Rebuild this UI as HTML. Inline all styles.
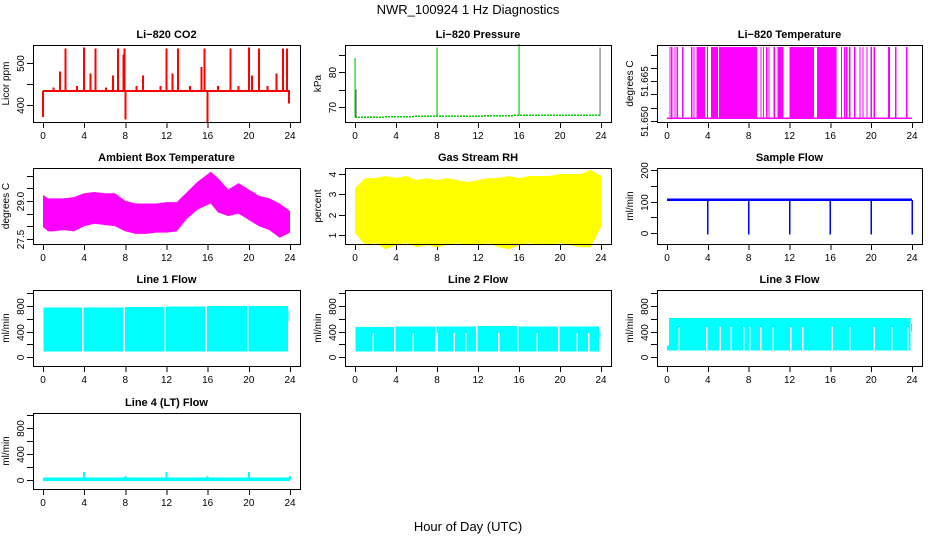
<!DOCTYPE html>
<html><head><meta charset="utf-8"><style>
html,body{margin:0;padding:0;background:#fff;}
svg{display:block;font-family:"Liberation Sans",sans-serif;}
</style></head><body>
<svg id="c" width="936" height="540" xmlns="http://www.w3.org/2000/svg" shape-rendering="crispEdges">
<text x="468" y="14" text-anchor="middle" font-size="13">NWR_100924  1 Hz Diagnostics</text>
<text x="468" y="531" text-anchor="middle" font-size="13">Hour of Day (UTC)</text>
</svg>
<script>
// ---- data ----
const xTicks = [0,4,8,12,16,20,24];
// CO2
const co2Base = 433;
const co2SpikeHours = [2.2,4.0,5.1,7.3,7.9,12.0,13.1,15.7,18.2,20.0,21.0,23.3,23.7,1.65,4.6,6.8,9.7,12.6,15.4,20.3,22.7,7.8,0.0,8.0,16.0,23.9,3.3,9.1,11.4,14.3,17.0,19.0,21.8,6.1,1.0];
const co2SpikeValues = [535,537,535,535,535,535,535,535,535,537,535,535,535,480,475,470,470,475,490,470,475,520,372,365,360,403,445,445,445,445,445,445,445,442,442];
// Pressure
const presHours = [0,4,8,12,16,20,24];
const presBase = [67.0,67.2,67.4,67.4,67.6,67.6,67.6];
const presSpikeHours = [0.0,0.1,8.0,16.0,23.9];
const presSpikeValues = [84,75,87,88,87];
// Li-820 temperature
const tempLow = 51.6511, tempHigh = 51.6778;
const tempBandStart = [2.9,4.3,5.1,10.8,12.0,14.7];
const tempBandEnd = [3.7,5.0,8.8,11.4,14.4,16.6];
const tempLineHours = [0.3,0.46,0.78,1.0,1.54,2.42,2.65,3.96,9.2,9.45,9.77,10.0,10.5,12.1,13.3,17.1,17.4,17.6,17.9,18.4,18.9,19.2,19.6,20.0,20.3,21.7,21.8,22.4,23.5];
// Ambient box temperature
const ambHours = [0,0.5,1,2,3,4,5,6,7,8,9,10,11,12,13,14,15,15.5,16.3,17,18,19,20,21,22,23,24];
const ambMax = [29.23,29.1,29.1,29.1,29.15,29.3,29.35,29.3,29.3,29.0,28.9,28.9,28.9,28.95,28.95,29.35,29.75,29.9,30.15,29.9,29.45,29.7,29.45,29.2,29.1,28.9,28.6];
const ambMin = [27.97,27.8,27.8,27.85,27.8,28.0,28.1,28.05,28.0,27.8,27.7,27.7,27.75,27.75,27.8,28.3,28.65,28.75,28.9,28.55,28.4,28.5,28.25,28.0,27.85,27.55,27.75];
// Gas stream RH
const rhHours = [0,1,2,3,4,5,6,7,8,9,10,11,12,13,14,15,16,17,18,19,20,21,22,23,24];
const rhMax = [3.3,3.8,3.8,3.9,3.8,3.9,3.7,3.8,3.7,3.8,3.7,3.6,3.7,3.8,3.8,3.9,3.8,3.9,3.9,3.9,4.0,4.0,4.0,4.2,3.9];
const rhMin = [1.1,0.5,0.6,0.3,0.5,0.6,0.4,0.5,0.4,0.5,0.6,0.5,0.5,0.6,0.4,0.3,0.5,0.6,0.5,0.5,0.6,0.5,0.4,0.4,1.4];
// Sample flow
const sfBase = 105;
const sfDipHours = [4,8,12,16,20,24];
const sfDipValues = [-5,-5,-5,-5,-5,-5];
// Line flows
const l1Start = [0.05,3.95,7.95,11.95,15.95,19.95,23.85];
const l1End = [3.8,7.8,11.8,15.8,19.8,23.8,23.95];
const l1Top = [780,780,785,795,800,800,740];
const l1Bottom = [85,85,85,85,90,90,560];
const l2Start = [0.05,3.95,7.95,11.95,15.95,19.95,23.85];
const l2End = [3.8,7.8,11.8,15.8,19.8,23.8,23.95];
const l2Top = [470,475,480,485,480,475,400];
const l2Bottom = [90,90,90,90,90,90,300];
const l2GapHours = [1.76,5.7,8.0,9.7,10.8,14.0,17.8,21.7,22.8];
const l2GapTop = 380;
const l3Start = [0.0,0.2,23.9];
const l3End = [0.2,23.85,24.0];
const l3Top = [180,610,520];
const l3Bottom = [100,100,400];
const l3GapHours = [1.2,3.9,5.2,6.3,7.5,8.1,9.2,10.4,12.1,13.3,16.2,17.9,20.3,22.0,23.6];
const l3GapTop = 470;
const l4Base = 10;
const l4SpikeHours = [4,8,12,16,20,24];
const l4SpikeValues = [120,60,120,60,120,60];

// ---- layout ----
const NS = "http://www.w3.org/2000/svg";
const svg = document.getElementById('c');
const cols = [[33,300],[345,611],[657,922]];
const rows = [[45,122],[168,244],[290,366],[413,489]];
function el(tag, attrs, parent){
  const e = document.createElementNS(NS, tag);
  for (const k in attrs) e.setAttribute(k, attrs[k]);
  (parent||svg).appendChild(e);
  return e;
}
function makePanel(ci, ri, name, title, ylab, v0, p0, v1, p1, yt, yl){
  const g = el('g', {});
  
  
  const [L,R] = cols[ci], [T,B] = rows[ri];
  const p = {L,R,T,B,x0:L+10,x1:R-10,v0,p0,v1,p1,g};
  p.X = h => p.x0 + h*(p.x1-p.x0)/24;
  p.Y = v => p.p0 + (v-v0)*(p1-p0)/(v1-v0);
  const t = el('text', {x:(L+R)/2, y:T-7, 'text-anchor':'middle', 'font-size':11, 'font-weight':'bold'}, g);
  t.textContent = title;
  
  
  const yt2 = el('text', {x:0, y:0, 'text-anchor':'middle', 'font-size':10, transform:`translate(${L-24},${(T+B)/2}) rotate(-90)`}, g);
  yt2.textContent = ylab;
  
  
  // x axis
  const xa = el('g', {}, g);
  
  
  xTicks.forEach(h => {
    el('line', {x1:p.X(h)+0.5, x2:p.X(h)+0.5, y1:B, y2:B+6, stroke:'#000'}, xa);
    const tl = el('text', {x:p.X(h), y:B+17, 'text-anchor':'middle', 'font-size':10}, xa);
    tl.textContent = h;
    
    
  });
  // y axis
  const ya = el('g', {}, g);
  
  
  yt.forEach((v,i) => {
    const y = Math.round(p.Y(v))+0.5;
    el('line', {x1:L-6, x2:L, y1:y, y2:y, stroke:'#000'}, ya);
    if (yl[i]) {
      const tl = el('text', {x:0, y:0, 'text-anchor':'middle', 'font-size':10, transform:`translate(${L-9},${y}) rotate(-90)`}, ya);
      tl.textContent = yl[i];
      
      
    }
  });
  p.data = el('g', {}, g);
  
  
  p.finish = () => {
    const b = el('rect', {x:L+0.5, y:T+0.5, width:R-L, height:B-T, fill:'none', stroke:'#000'}, g);
    
    
  };
  return p;
}
function vline(p, h, va, vb, col, w){
  const x = p.X(h), y1 = p.Y(va), y2 = p.Y(vb);
  el('rect', {x:x-(w||1)/2, y:Math.min(y1,y2), width:(w||1), height:Math.max(1,Math.abs(y2-y1)), fill:col}, p.data);
}
function band(p, h0, h1, top, bot, col){
  const x0 = p.X(h0), x1 = p.X(h1), y0 = p.Y(top), y1 = p.Y(bot);
  el('rect', {x:x0, y:Math.min(y0,y1), width:Math.max(1,x1-x0), height:Math.abs(y1-y0), fill:col}, p.data);
}
function envelope(p, hs, mx, mn, col){
  let d = hs.map((h,i)=>`${i?'L':'M'}${p.X(h)},${p.Y(mx[i])}`).join('');
  for (let i=hs.length-1;i>=0;i--) d += `L${p.X(hs[i])},${p.Y(mn[i])}`;
  el('path', {d:d+'Z', fill:col, 'shape-rendering':'auto'}, p.data);
}

// CO2
let p = makePanel(0,0,'co2','Li−820 CO2','Licor ppm',400,105,500,63,[400,450,500],['400','','500']);
band(p, 0, 24, co2Base+2.5, co2Base-2.5, '#ff0000');
co2SpikeHours.forEach((h,i)=>vline(p, h, co2Base, co2SpikeValues[i], '#ff0000', 2));
p.finish();

// Pressure
p = makePanel(1,0,'pressure','Li−820 Pressure','kPa',70,107,80,72,[70,75,80,85],['70','','80','']);
{
  const d = presHours.map((h,i)=>`${i?'L':'M'}${p.X(h)},${p.Y(presBase[i])}`).join('');
  el('path', {d, fill:'none', stroke:'#00cc00', 'stroke-width':1.5, 'stroke-dasharray':'2 1'}, p.data);
  presSpikeHours.forEach((h,i)=>{
    vline(p, h, presBase[Math.min(6,Math.round(h/4))], presSpikeValues[i], '#00cc00', 1.2);
    vline(p, h+0.03, presBase[Math.min(6,Math.round(h/4))], presSpikeValues[i], '#555', 0.6);
  });
}
p.finish();

// Li-820 temperature
p = makePanel(2,0,'li820-temperature','Li−820 Temperature','degrees C',51.650,121,51.675,54.5,
  [51.650,51.655,51.660,51.665,51.670,51.675],['51.650','','','51.665','','']);
band(p, 0, 24, tempLow+0.0003, tempLow-0.0003, '#ff00ff');
tempBandStart.forEach((s,i)=>band(p, s, tempBandEnd[i], tempHigh, tempLow, '#ff00ff'));
tempLineHours.forEach(h=>vline(p, h, tempLow, tempHigh, '#ff00ff', 1.3));
p.finish();

// Ambient
p = makePanel(0,1,'ambient-box-temperature','Ambient Box Temperature','degrees C',27.5,239,30,175.5,
  [27.5,28,28.5,29,29.5,30],['27.5','','','29.0','','']);
envelope(p, ambHours, ambMax, ambMin, '#ff00ff');
p.finish();

// RH
p = makePanel(1,1,'gas-stream-rh','Gas Stream RH','percent',1,235,4,174,[1,2,3,4],['1','2','3','4']);
envelope(p, rhHours, rhMax, rhMin, '#ffff00');
p.finish();

// Sample flow
p = makePanel(2,1,'sample-flow','Sample Flow','ml/min',0,233,200,170,[0,50,100,150,200],['0','','100','','200']);
band(p, 0, 24, sfBase+4, sfBase-4, '#0000ff');
sfDipHours.forEach((h,i)=>vline(p, h, sfBase, sfDipValues[i], '#0000ff', 1.5));
p.finish();

// Line flows
const flowTicks = [0,200,400,600,800,1000], flowLabels = ['0','','400','','800',''];
p = makePanel(0,2,'line-1-flow','Line 1 Flow','ml/min',0,357,800,306,flowTicks,flowLabels);
l1Start.forEach((s,i)=>band(p, s, l1End[i], l1Top[i], l1Bottom[i], '#00ffff'));
p.finish();

p = makePanel(1,2,'line-2-flow','Line 2 Flow','ml/min',0,357,800,306,flowTicks,flowLabels);
l2Start.forEach((s,i)=>band(p, s, l2End[i], l2Top[i], l2Bottom[i], '#00ffff'));
l2GapHours.forEach(h=>vline(p, h, 90, l2GapTop, '#ffffff', 1.5));
p.finish();

p = makePanel(2,2,'line-3-flow','Line 3 Flow','ml/min',0,357,800,306,flowTicks,flowLabels);
l3Start.forEach((s,i)=>band(p, s, l3End[i], l3Top[i], l3Bottom[i], '#00ffff'));
l3GapHours.forEach(h=>vline(p, h, 100, l3GapTop, '#ffffff', 1.5));
p.finish();

p = makePanel(0,3,'line-4-flow','Line 4 (LT) Flow','ml/min',0,480,800,428,flowTicks,flowLabels);
band(p, 0, 24, l4Base+25, l4Base-25, '#00ffff');
l4SpikeHours.forEach((h,i)=>vline(p, h, l4Base, l4SpikeValues[i], '#00ffff', 2));
p.finish();
</script>
</body></html>
